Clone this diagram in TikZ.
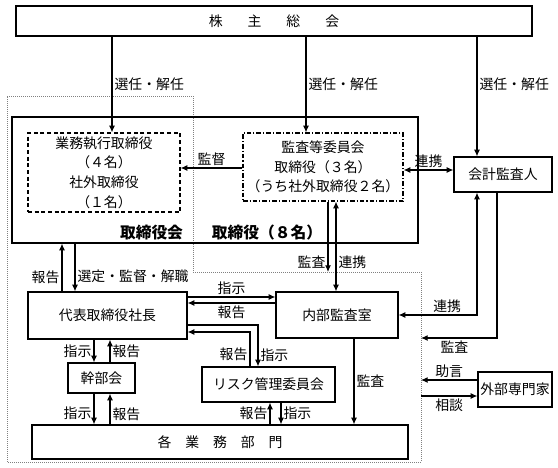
\documentclass[tikz,border=0pt]{standalone}
\usepackage{fontspec}
\setmainfont{Noto Sans CJK JP}
\usetikzlibrary{arrows.meta}
\tikzset{
    box/.style={draw, line width=0.9pt, inner sep=0pt, align=center}, % solid frame of an organ
    dashbox/.style={box, dash pattern=on 3pt off 2pt}, % executive directors
    dotdashbox/.style={box, dash pattern=on 3.5pt off 1.5pt on 0.8pt off 1.5pt}, % audit committee
    arr/.style={line width=0.9pt, -{Latex[length=5pt,width=4.5pt]}}, % one-way connector
    arrr/.style={line width=0.9pt, {Latex[length=5pt,width=4.5pt]}-{Latex[length=5pt,width=4.5pt]}}, % two-way connector
    lbl/.style={inner sep=1.5pt, font=\fontsize{10.4}{12}\selectfont}, % text on a connector
    every node/.style={font=\fontsize{10.4}{13.8}\selectfont},
}

\begin{document}
\begin{tikzpicture}[x=0.75pt, y=-0.75pt]
            \useasboundingbox (0,0) rectangle (558,468);

            % area that the audit reaches
            \draw[gray, line width=0.75pt, dash pattern=on 0.75pt off 0.75pt]
                (7,96) -- (193,96) -- (193,272) -- (421,272) -- (421,462) -- (7,462) -- cycle;

            \node[box, minimum width=387pt, minimum height=22.5pt] (gms) at (274,21) {株\hspace{1.8em}主\hspace{1.8em}総\hspace{1.8em}会};
            \node[box, minimum width=304.5pt, minimum height=94.5pt] (board) at (215,180) {};
            \node[dashbox, minimum width=114pt, minimum height=59.25pt] (exec) at (104,172.5)
                {業務執行取締役\\[1pt]（４名）\\[1pt]社外取締役\\[1pt]（１名）};
            \node[dotdashbox, minimum width=120pt, minimum height=51pt] (acom) at (323,167)
                {監査等委員会\\[1pt]取締役（３名）\\[1pt]（うち社外取締役２名）};
            \node[font=\fontsize{11.8}{14}\selectfont\bfseries] (boardname) at (151.5,233) {取締役会};
            \node[font=\fontsize{11.8}{14}\selectfont\bfseries] (boardnum) at (267,233) {取締役（８名）};
            \node[box, minimum width=73.5pt, minimum height=26.25pt] (cpa) at (503,174.5) {会計監査人};
            \node[box, minimum width=119.25pt, minimum height=35.25pt] (pres) at (107.5,315.5) {代表取締役社長};
            \node[box, minimum width=91.5pt, minimum height=34.5pt] (iaud) at (337,315) {内部監査室};
            \node[box, minimum width=50.25pt, minimum height=22.5pt] (exe) at (101.5,378) {幹部会};
            \node[box, minimum width=99.75pt, minimum height=26.25pt] (risk) at (268.5,384.5) {リスク管理委員会};
            \node[box, minimum width=282pt, minimum height=25.5pt] (dept) at (220,442) {各　業　務　部　門};
            \node[box, minimum width=55.5pt, minimum height=26.25pt] (expert) at (515,389.5) {外部専門家};

            % columns and rows where the connectors run
            \foreach \n/\v in {a/112,b/306,c/477,d/497,e/328,f/336,g/62,h/75,i/94,j/110,k/250,l/258,m/270,n/281,o/354,p/421}
                \coordinate (x\n) at (\v,0);
            \foreach \n/\v in {a/297,b/303,c/325,d/332,e/315,f/338,g/380,h/396,i/272,j/168,k/170}
                \coordinate (y\n) at (0,\v);

            \path (xa |- gms.south) edge[arr] node[lbl, right]{選任・解任} (xa |- exec.north)
            (xb |- gms.south) edge[arr] node[lbl, right]{選任・解任} (xb |- acom.north)
            (xc |- gms.south) edge[arr] node[lbl, right, pos=0.4]{選任・解任} (xc |- cpa.north)
            (acom.west |- yj) edge[arr] node[lbl, above]{監督} (exec.east |- yj)
            (acom.east |- yk) edge[arrr] node[lbl, above]{連携} (cpa.west |- yk)
            (xe |- acom.south) edge[arr] node[lbl, left, pos=0.86]{監査} (xe |- yi)
            (xf |- acom.south) edge[arrr] node[lbl, right, pos=0.67]{連携} (xf |- iaud.north)
            (xg |- pres.north) edge[arr] node[lbl, left, pos=0.3]{報告} (xg |- board.south)
            (xh |- board.south) edge[arr] node[lbl, right, pos=0.69]{選定・監督・解職} (xh |- pres.north)
            (pres.east |- ya) edge[arr] node[lbl, above]{指示} (iaud.west |- ya)
            (iaud.west |- yb) edge[arr] node[lbl, below]{報告} (pres.east |- yb)
            (xi |- pres.south) edge[arr] node[lbl, left]{指示} (xi |- exe.north)
            (xj |- exe.north) edge[arr] node[lbl, right]{報告} (xj |- pres.south)
            (xi |- exe.south) edge[arr] node[lbl, left, pos=0.65]{指示} (xi |- dept.north)
            (xj |- dept.north) edge[arr] node[lbl, right, pos=0.34]{報告} (xj |- exe.south)
            (xm |- dept.north) edge[arr] node[lbl, left]{報告} (xm |- risk.south)
            (xn |- risk.south) edge[arr] node[lbl, right]{指示} (xn |- dept.north)
            (xo |- iaud.south) edge[arr] node[lbl, right]{監査} (xo |- dept.north)
            (expert.west |- yg) edge[arr] node[lbl, above]{助言} (xp |- yg)
            (xp |- yh) edge[arr] node[lbl, below]{相談} (expert.west |- yh);

            \draw[arr] (pres.east |- yc) -| node[lbl, right, pos=0.86]{指示} (xl |- risk.north);
            \draw[arr] (xk |- risk.north) |- node[lbl, left, pos=0.17]{報告} (pres.east |- yd);
            \draw[arrr] (iaud.east |- ye) -| node[lbl, above, pos=0.31]{連携} (xc |- cpa.south);
            \draw[arr] (xd |- cpa.south) |- node[lbl, below, pos=0.78]{監査} (xp |- yf);

        \end{tikzpicture}
\end{document}
